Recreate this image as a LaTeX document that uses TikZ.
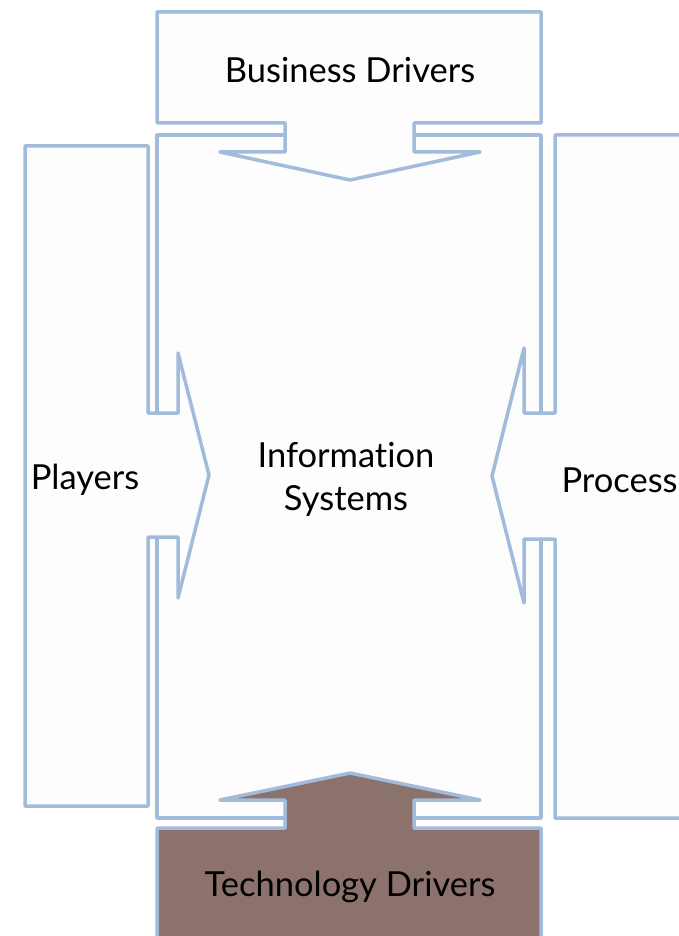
\documentclass[tikz,border=0pt]{standalone}
\usepackage{fontspec}
\setmainfont{Lato}[Ligatures=NoCommon]
\definecolor{edgeblue}{RGB}{163,187,219}
\definecolor{techbrown}{RGB}{140,114,108}
\definecolor{paper}{RGB}{253,253,253}
\begin{document}
\begin{tikzpicture}[x=1pt, y=-1pt,
		blockshape/.style={draw=edgeblue, line width=3.5pt, line join=round, fill=paper},
		blocktext/.style={font=\fontsize{34.5}{43}\selectfont, text=black, align=center}]
		\useasboundingbox (0, 0) rectangle (679, 936);
		\clip (0, 0) rectangle (679, 936);

		\draw[blockshape] (157, 135) rectangle (541, 818);

		\draw[blockshape] (25, 146) -- (148, 146) -- (148, 413) -- (178, 413) -- (178, 353) -- (209, 475)
			-- (178, 598) -- (178, 537) -- (148, 537) -- (148, 806) -- (25, 806) -- cycle;

		\draw[blockshape] (720, 135) -- (555, 135) -- (555, 413) -- (524, 413) -- (524, 348) -- (492, 476)
			-- (524, 603) -- (524, 539) -- (555, 539) -- (555, 818) -- (720, 818) -- cycle;

		\draw[blockshape] (157, 12) -- (541, 12) -- (541, 123) -- (414, 123) -- (414, 152) -- (480, 152)
			-- (350, 180) -- (220, 152) -- (285, 152) -- (285, 123) -- (157, 123) -- cycle;

		\draw[blockshape, fill=techbrown] (157, 960) -- (157, 828) -- (285, 828) -- (285, 800) -- (220, 800)
			-- (350, 773) -- (480, 800) -- (414, 800) -- (414, 828) -- (541, 828) -- (541, 960) -- cycle;

		\node[blocktext] (business) at (350, 70) {Business Drivers};
		\node[blocktext] (infosys) at (346, 479) {Information\\Systems};
		\node[blocktext] (players) at (85, 480) {Players};
		\node[blocktext, anchor=west] (process) at (558, 480) {Process};
		\node[blocktext] (technology) at (350, 887) {Technology Drivers};
	\end{tikzpicture}
\end{document}
